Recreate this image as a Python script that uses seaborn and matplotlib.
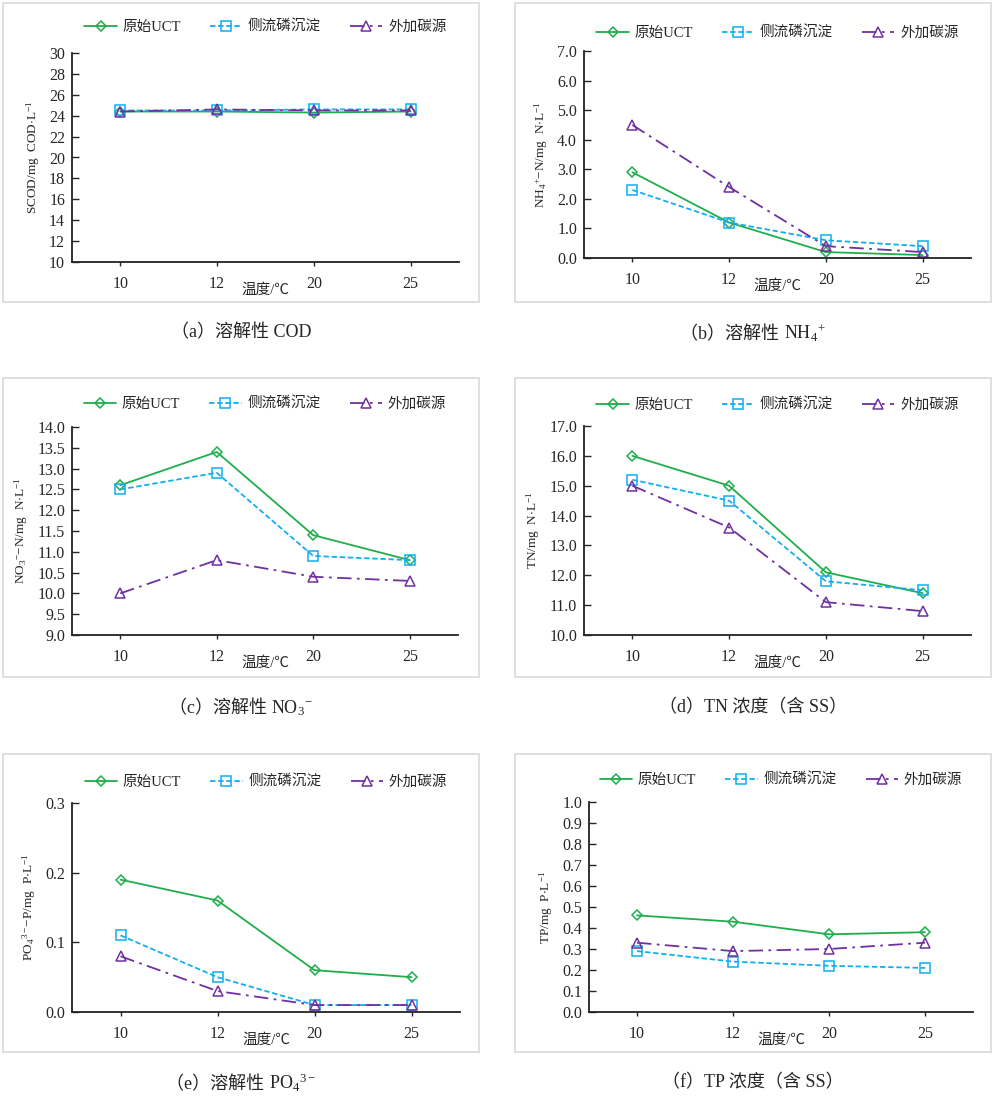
import matplotlib
matplotlib.use('Agg')
import matplotlib.pyplot as plt
from matplotlib.patches import Rectangle
from matplotlib.offsetbox import TextArea, HPacker, AnnotationBbox
import seaborn as sns
import pandas as pd

temps = ['10', '12', '20', '25']
series_names = ['原始UCT', '侧流磷沉淀', '外加碳源']

cod_uct = [24.4, 24.4, 24.3, 24.4]
cod_side = [24.5, 24.5, 24.6, 24.6]
cod_carbon = [24.4, 24.6, 24.5, 24.5]

nh4_uct = [2.9, 1.2, 0.2, 0.1]
nh4_side = [2.3, 1.2, 0.6, 0.4]
nh4_carbon = [4.5, 2.4, 0.4, 0.2]

no3_uct = [12.6, 13.4, 11.4, 10.8]
no3_side = [12.5, 12.9, 10.9, 10.8]
no3_carbon = [10.0, 10.8, 10.4, 10.3]

tn_uct = [16.0, 15.0, 12.1, 11.4]
tn_side = [15.2, 14.5, 11.8, 11.5]
tn_carbon = [15.0, 13.6, 11.1, 10.8]

po4_uct = [0.19, 0.16, 0.06, 0.05]
po4_side = [0.11, 0.05, 0.01, 0.01]
po4_carbon = [0.08, 0.03, 0.01, 0.01]

tp_uct = [0.46, 0.43, 0.37, 0.38]
tp_side = [0.29, 0.24, 0.22, 0.21]
tp_carbon = [0.33, 0.29, 0.30, 0.33]

ylabels = [r'SCOD/mg  COD$\cdot$L$^{-1}$',
           r'NH$_4$$^{+}$$-$N/mg  N$\cdot$L$^{-1}$',
           r'NO$_3$$^{-}$$-$N/mg  N$\cdot$L$^{-1}$',
           r'TN/mg  N$\cdot$L$^{-1}$',
           r'PO$_4$$^{3-}$$-$P/mg  P$\cdot$L$^{-1}$',
           r'TP/mg  P$\cdot$L$^{-1}$']
# caption = plain part + optional formula part
captions = [('（a）溶解性 COD', ''), ('（b）溶解性 ', r'NH$_4$$^{+}$'),
            ('（c）溶解性 ', r'NO$_3$$^{-}$'), ('（d）TN 浓度（含 SS）', ''),
            ('（e）溶解性 ', r'PO$_4$$^{3-}$'), ('（f）TP 浓度（含 SS）', '')]

sns.set_style('white')
mixed = ['Liberation Serif', 'Noto Sans CJK SC']
plt.rcParams['font.family'] = mixed
plt.rcParams['mathtext.fontset'] = 'custom'
plt.rcParams['mathtext.rm'] = 'Liberation Serif'
plt.rcParams['mathtext.it'] = 'Liberation Serif:italic'
plt.rcParams['mathtext.default'] = 'regular'

W, H = 996, 1106
fig = plt.figure(figsize=(W / 100, H / 100), dpi=100)

colors = ['#1fae4b', '#12aef0', '#7030a0']
markers = ['D', 's', '^']
msizes = [5, 7, 7]
dashes = ['-', (0, (3, 1.5)), (0, (8, 3, 1.5, 3))]

panels = [
    (cod_uct, cod_side, cod_carbon, (10, 30), [10, 12, 14, 16, 18, 20, 22, 24, 26, 28, 30], '{:.0f}'),
    (nh4_uct, nh4_side, nh4_carbon, (0, 7), [0, 1, 2, 3, 4, 5, 6, 7], '{:.1f}'),
    (no3_uct, no3_side, no3_carbon, (9, 14), [9, 9.5, 10, 10.5, 11, 11.5, 12, 12.5, 13, 13.5, 14], '{:.1f}'),
    (tn_uct, tn_side, tn_carbon, (10, 17), [10, 11, 12, 13, 14, 15, 16, 17], '{:.1f}'),
    (po4_uct, po4_side, po4_carbon, (0, 0.3), [0, 0.1, 0.2, 0.3], '{:.1f}'),
    (tp_uct, tp_side, tp_carbon, (0, 1), [0, 0.1, 0.2, 0.3, 0.4, 0.5, 0.6, 0.7, 0.8, 0.9, 1.0], '{:.1f}'),
]

# axes boxes in pixel coords: left, top, right, bottom
ax_px = [(72, 53, 459, 262), (584, 51, 971, 258),
         (72, 427, 458, 635), (584, 426, 971, 635),
         (72, 803, 460, 1012), (589, 802, 973, 1012)]
box_px = [(3, 3, 479, 302), (515, 3, 991, 302),
          (3, 378, 479, 677), (515, 378, 991, 677),
          (3, 754, 479, 1052), (515, 754, 991, 1052)]
legend_y = [27, 33, 404, 405, 782, 780]

for i, (uct, side, carbon, ylim, yticks, fmt) in enumerate(panels):
    bx0, by0, bx1, by1 = box_px[i]
    fig.patches.append(Rectangle((bx0 / W, 1 - by1 / H), (bx1 - bx0) / W, (by1 - by0) / H,
                                 transform=fig.transFigure, fill=False,
                                 edgecolor='#d9d9d9', linewidth=1.2))
    x0, y0, x1, y1 = ax_px[i]
    ax = fig.add_axes([x0 / W, 1 - y1 / H, (x1 - x0) / W, (y1 - y0) / H])
    for vals, name, c, m, ms, ls in zip([uct, side, carbon], series_names, colors, markers, msizes, dashes):
        sns.lineplot(x=temps, y=vals, ax=ax, color=c, marker=m, markersize=ms,
                     markerfacecolor='none', markeredgecolor=c, markeredgewidth=1.1,
                     linestyle=ls, linewidth=1.3, label=name, sort=False)
    ax.set_xlim(-0.5, 3.5)
    ax.set_ylim(*ylim)
    ax.set_yticks(yticks)
    ax.set_yticklabels([fmt.format(v) for v in yticks], fontsize=11.5)
    ax.set_xticks(range(4))
    ax.set_xticklabels(temps, fontsize=11.5)
    for s in ['top', 'right']:
        ax.spines[s].set_visible(False)
    for s in ['left', 'bottom']:
        ax.spines[s].set_color('#222222')
        ax.spines[s].set_linewidth(1.3)
    ax.tick_params(axis='y', direction='in', length=5, width=1, left=True, pad=5)
    ax.tick_params(axis='x', direction='out', length=3, width=1, bottom=True, pad=7)
    ax.set_ylabel(ylabels[i], fontsize=9.5, labelpad=5)
    ax.set_xlabel('温度/℃', fontsize=10.5, labelpad=-6, family=mixed)
    ly = 1 + (y0 - legend_y[i]) / (y1 - y0)
    ax.legend(loc='center', bbox_to_anchor=(0.5, ly), ncol=3, frameon=False,
              handlelength=2.2, columnspacing=2.0, handletextpad=0.4,
              prop={'family': mixed, 'size': 10.5})

    # caption below the panel box
    plain, formula = captions[i]
    parts = [TextArea(plain, textprops=dict(fontsize=13, family=mixed))]
    if formula:
        parts.append(TextArea(formula, textprops=dict(fontsize=13, family='Liberation Serif')))
    pack = HPacker(children=parts, align='baseline', pad=0, sep=0)
    cx = (bx0 + bx1) / 2
    ab = AnnotationBbox(pack, (cx / W, 1 - (by1 + 31) / H), xycoords='figure fraction',
                        box_alignment=(0.5, 0.5), frameon=False, pad=0)
    fig.add_artist(ab)

fig.savefig('out.png', dpi=100)
